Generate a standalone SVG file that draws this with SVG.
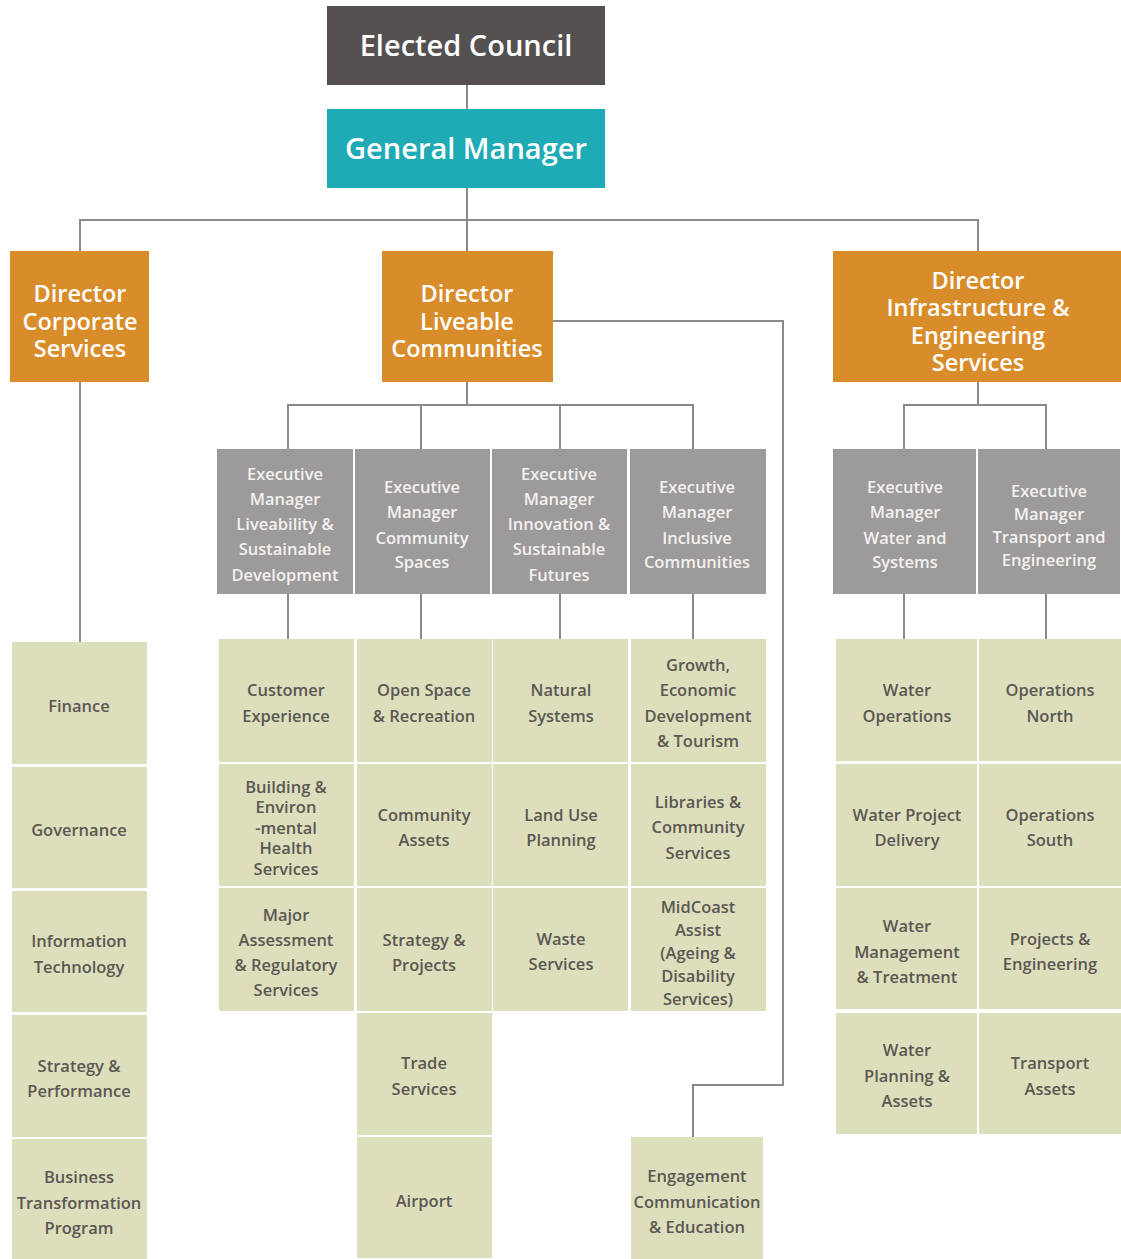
<svg xmlns="http://www.w3.org/2000/svg" width="1121" height="1259" viewBox="0 0 1121 1259">
  <style>
    .bg { fill: #ffffff; }
    .council { fill: #545150; }
    .gm { fill: #1eabb5; }
    .dir { fill: #d98c2a; }
    .exec { fill: #9c9a9a; }
    .unit { fill: #dddfbc; }
    .title { font-family: "Open Sans", "Liberation Sans", sans-serif; font-weight: 600; font-size: 29px; fill: #ffffff; text-anchor: middle; }
    .dtext { font-family: "Open Sans", "Liberation Sans", sans-serif; font-weight: 600; font-size: 23.5px; fill: #ffffff; text-anchor: middle; }
    .etext { font-family: "Open Sans", "Liberation Sans", sans-serif; font-weight: 600; font-size: 16.5px; fill: #f3f1ef; text-anchor: middle; }
    .utext { font-family: "Open Sans", "Liberation Sans", sans-serif; font-weight: 600; font-size: 16.5px; fill: #5b5753; text-anchor: middle; }
    .conn { fill: none; stroke: #8a8a8a; stroke-width: 2; }
  </style>
  <rect class="bg" x="0" y="0" width="1121" height="1259"/>

  <!-- reporting lines -->
  <g id="connectors">
    <path class="conn" d="M467 85 V109"/>
    <path class="conn" d="M467 188 V251"/>
    <path class="conn" d="M80 251 V220 H978 V251"/>
    <!-- corporate services -->
    <path class="conn" d="M80 382 V642"/>
    <!-- liveable communities -->
    <path class="conn" d="M467 382 V405"/>
    <path class="conn" d="M288 449 V405 H693 V449"/>
    <path class="conn" d="M421 405 V449"/>
    <path class="conn" d="M560 405 V449"/>
    <path class="conn" d="M553 321 H783 V1085 H693 V1137"/>
    <path class="conn" d="M288 594 V639"/>
    <path class="conn" d="M421 594 V639"/>
    <path class="conn" d="M560 594 V639"/>
    <path class="conn" d="M693 594 V639"/>
    <!-- infrastructure & engineering -->
    <path class="conn" d="M978 382 V405"/>
    <path class="conn" d="M904 449 V405 H1046 V449"/>
    <path class="conn" d="M904 594 V639"/>
    <path class="conn" d="M1046 594 V639"/>
  </g>

  <g id="elected-council">
    <rect class="council" x="327" y="6" width="278" height="79"/>
    <text class="title" x="466" y="56">Elected Council</text>
  </g>
  <g id="general-manager">
    <rect class="gm" x="327" y="109" width="278" height="79"/>
    <text class="title" x="466" y="159">General Manager</text>
  </g>

  <g id="dir-corporate">
    <rect class="dir" x="10" y="251" width="139" height="131"/>
    <text class="dtext"><tspan x="80" y="302">Director</tspan><tspan x="80" y="330">Corporate</tspan><tspan x="80" y="357">Services</tspan></text>
  </g>
  <g id="dir-liveable">
    <rect class="dir" x="382" y="251" width="171" height="131"/>
    <text class="dtext"><tspan x="467" y="302">Director</tspan><tspan x="467" y="330">Liveable</tspan><tspan x="467" y="357">Communities</tspan></text>
  </g>
  <g id="dir-infrastructure">
    <rect class="dir" x="833" y="251" width="288" height="131"/>
    <text class="dtext"><tspan x="978" y="289">Director</tspan><tspan x="978" y="316">Infrastructure &amp;</tspan><tspan x="978" y="344">Engineering</tspan><tspan x="978" y="371">Services</tspan></text>
  </g>

  <!-- executive managers -->
  <g id="em-liveability">
    <rect class="exec" x="217" y="449" width="136" height="145"/>
    <text class="etext"><tspan x="285" y="480">Executive</tspan><tspan x="285" y="505">Manager</tspan><tspan x="285" y="530">Liveability &amp;</tspan><tspan x="285" y="555">Sustainable</tspan><tspan x="285" y="581">Development</tspan></text>
  </g>
  <g id="em-community-spaces">
    <rect class="exec" x="355" y="449" width="135" height="145"/>
    <text class="etext"><tspan x="422" y="493">Executive</tspan><tspan x="422" y="518">Manager</tspan><tspan x="422" y="544">Community</tspan><tspan x="422" y="568">Spaces</tspan></text>
  </g>
  <g id="em-innovation">
    <rect class="exec" x="492" y="449" width="135" height="145"/>
    <text class="etext"><tspan x="559" y="480">Executive</tspan><tspan x="559" y="505">Manager</tspan><tspan x="559" y="530">Innovation &amp;</tspan><tspan x="559" y="555">Sustainable</tspan><tspan x="559" y="581">Futures</tspan></text>
  </g>
  <g id="em-inclusive">
    <rect class="exec" x="630" y="449" width="136" height="145"/>
    <text class="etext"><tspan x="697" y="493">Executive</tspan><tspan x="697" y="518">Manager</tspan><tspan x="697" y="544">Inclusive</tspan><tspan x="697" y="568">Communities</tspan></text>
  </g>
  <g id="em-water">
    <rect class="exec" x="833" y="449" width="143" height="145"/>
    <text class="etext"><tspan x="905" y="493">Executive</tspan><tspan x="905" y="518">Manager</tspan><tspan x="905" y="544">Water and</tspan><tspan x="905" y="568">Systems</tspan></text>
  </g>
  <g id="em-transport">
    <rect class="exec" x="978" y="449" width="142" height="145"/>
    <text class="etext"><tspan x="1049" y="497">Executive</tspan><tspan x="1049" y="520">Manager</tspan><tspan x="1049" y="543">Transport and</tspan><tspan x="1049" y="566">Engineering</tspan></text>
  </g>

  <!-- corporate services units -->
  <g id="finance">
    <rect class="unit" x="12" y="642" width="135" height="122"/>
    <text class="utext" x="79" y="712">Finance</text>
  </g>
  <g id="governance">
    <rect class="unit" x="12" y="767" width="135" height="121"/>
    <text class="utext" x="79" y="836">Governance</text>
  </g>
  <g id="information-technology">
    <rect class="unit" x="12" y="891" width="135" height="121"/>
    <text class="utext"><tspan x="79" y="947">Information</tspan><tspan x="79" y="973">Technology</tspan></text>
  </g>
  <g id="strategy-performance">
    <rect class="unit" x="12" y="1015" width="135" height="122"/>
    <text class="utext"><tspan x="79" y="1072">Strategy &amp;</tspan><tspan x="79" y="1097">Performance</tspan></text>
  </g>
  <g id="business-transformation">
    <rect class="unit" x="12" y="1139" width="135" height="122"/>
    <text class="utext"><tspan x="79" y="1183">Business</tspan><tspan x="79" y="1209">Transformation</tspan><tspan x="79" y="1234">Program</tspan></text>
  </g>

  <!-- liveability & sustainable development units -->
  <g id="customer-experience">
    <rect class="unit" x="219" y="639" width="135" height="123"/>
    <text class="utext"><tspan x="286" y="696">Customer</tspan><tspan x="286" y="722">Experience</tspan></text>
  </g>
  <g id="building-env-health">
    <rect class="unit" x="219" y="764" width="135" height="122"/>
    <text class="utext"><tspan x="286" y="793">Building &amp;</tspan><tspan x="286" y="813">Environ</tspan><tspan x="286" y="834">-mental</tspan><tspan x="286" y="854">Health</tspan><tspan x="286" y="875">Services</tspan></text>
  </g>
  <g id="major-assessment">
    <rect class="unit" x="219" y="888" width="135" height="123"/>
    <text class="utext"><tspan x="286" y="921">Major</tspan><tspan x="286" y="946">Assessment</tspan><tspan x="286" y="971">&amp; Regulatory</tspan><tspan x="286" y="996">Services</tspan></text>
  </g>

  <!-- community spaces units -->
  <g id="open-space">
    <rect class="unit" x="357" y="639" width="135" height="123"/>
    <text class="utext"><tspan x="424" y="696">Open Space</tspan><tspan x="424" y="722">&amp; Recreation</tspan></text>
  </g>
  <g id="community-assets">
    <rect class="unit" x="357" y="764" width="135" height="122"/>
    <text class="utext"><tspan x="424" y="821">Community</tspan><tspan x="424" y="846">Assets</tspan></text>
  </g>
  <g id="strategy-projects">
    <rect class="unit" x="357" y="888" width="135" height="123"/>
    <text class="utext"><tspan x="424" y="946">Strategy &amp;</tspan><tspan x="424" y="971">Projects</tspan></text>
  </g>
  <g id="trade-services">
    <rect class="unit" x="357" y="1013" width="135" height="122"/>
    <text class="utext"><tspan x="424" y="1069">Trade</tspan><tspan x="424" y="1095">Services</tspan></text>
  </g>
  <g id="airport">
    <rect class="unit" x="357" y="1137" width="135" height="121"/>
    <text class="utext" x="424" y="1207">Airport</text>
  </g>

  <!-- innovation & sustainable futures units -->
  <g id="natural-systems">
    <rect class="unit" x="493" y="639" width="135" height="123"/>
    <text class="utext"><tspan x="561" y="696">Natural</tspan><tspan x="561" y="722">Systems</tspan></text>
  </g>
  <g id="land-use-planning">
    <rect class="unit" x="493" y="764" width="135" height="122"/>
    <text class="utext"><tspan x="561" y="821">Land Use</tspan><tspan x="561" y="846">Planning</tspan></text>
  </g>
  <g id="waste-services">
    <rect class="unit" x="493" y="888" width="135" height="123"/>
    <text class="utext"><tspan x="561" y="945">Waste</tspan><tspan x="561" y="970">Services</tspan></text>
  </g>

  <!-- inclusive communities units -->
  <g id="growth-economic">
    <rect class="unit" x="631" y="639" width="135" height="123"/>
    <text class="utext"><tspan x="698" y="671">Growth,</tspan><tspan x="698" y="696">Economic</tspan><tspan x="698" y="722">Development</tspan><tspan x="698" y="747">&amp; Tourism</tspan></text>
  </g>
  <g id="libraries">
    <rect class="unit" x="631" y="764" width="135" height="122"/>
    <text class="utext"><tspan x="698" y="808">Libraries &amp;</tspan><tspan x="698" y="833">Community</tspan><tspan x="698" y="859">Services</tspan></text>
  </g>
  <g id="midcoast-assist">
    <rect class="unit" x="631" y="888" width="135" height="123"/>
    <text class="utext"><tspan x="698" y="913">MidCoast</tspan><tspan x="698" y="936">Assist</tspan><tspan x="698" y="959">(Ageing &amp;</tspan><tspan x="698" y="982">Disability</tspan><tspan x="698" y="1005">Services)</tspan></text>
  </g>
  <g id="engagement">
    <rect class="unit" x="631" y="1137" width="132" height="122"/>
    <text class="utext"><tspan x="697" y="1182">Engagement</tspan><tspan x="697" y="1208">Communication</tspan><tspan x="697" y="1233">&amp; Education</tspan></text>
  </g>

  <!-- water and systems units -->
  <g id="water-operations">
    <rect class="unit" x="836" y="639" width="141" height="122"/>
    <text class="utext"><tspan x="907" y="696">Water</tspan><tspan x="907" y="722">Operations</tspan></text>
  </g>
  <g id="water-project-delivery">
    <rect class="unit" x="836" y="764" width="141" height="122"/>
    <text class="utext"><tspan x="907" y="821">Water Project</tspan><tspan x="907" y="846">Delivery</tspan></text>
  </g>
  <g id="water-management">
    <rect class="unit" x="836" y="888" width="141" height="121"/>
    <text class="utext"><tspan x="907" y="932">Water</tspan><tspan x="907" y="958">Management</tspan><tspan x="907" y="983">&amp; Treatment</tspan></text>
  </g>
  <g id="water-planning">
    <rect class="unit" x="836" y="1013" width="141" height="121"/>
    <text class="utext"><tspan x="907" y="1056">Water</tspan><tspan x="907" y="1082">Planning &amp;</tspan><tspan x="907" y="1107">Assets</tspan></text>
  </g>

  <!-- transport and engineering units -->
  <g id="operations-north">
    <rect class="unit" x="979" y="639" width="142" height="122"/>
    <text class="utext"><tspan x="1050" y="696">Operations</tspan><tspan x="1050" y="722">North</tspan></text>
  </g>
  <g id="operations-south">
    <rect class="unit" x="979" y="764" width="142" height="122"/>
    <text class="utext"><tspan x="1050" y="821">Operations</tspan><tspan x="1050" y="846">South</tspan></text>
  </g>
  <g id="projects-engineering">
    <rect class="unit" x="979" y="888" width="142" height="121"/>
    <text class="utext"><tspan x="1050" y="945">Projects &amp;</tspan><tspan x="1050" y="970">Engineering</tspan></text>
  </g>
  <g id="transport-assets">
    <rect class="unit" x="979" y="1013" width="142" height="121"/>
    <text class="utext"><tspan x="1050" y="1069">Transport</tspan><tspan x="1050" y="1095">Assets</tspan></text>
  </g>
</svg>
